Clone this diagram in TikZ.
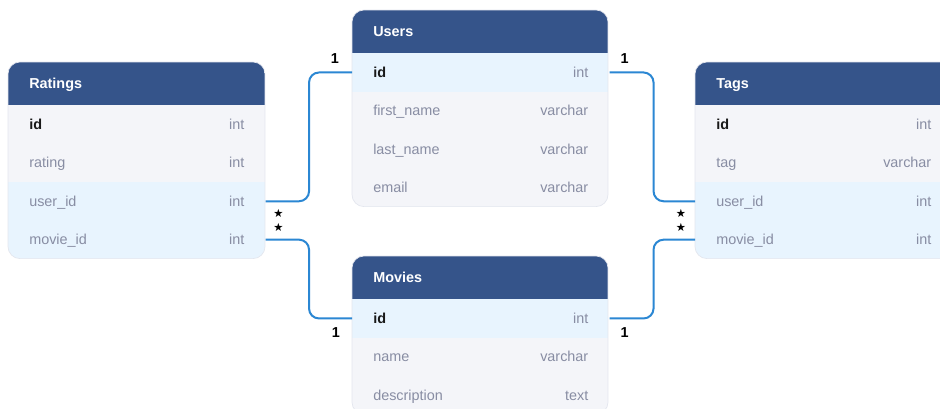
\documentclass[tikz,border=0pt]{standalone}
\usepackage{fontspec}
\setmainfont{Liberation Sans}
\newfontfamily\symfont{DejaVu Sans}
\usetikzlibrary{calc}
\definecolor{hdrblue}{HTML}{35548A}
\definecolor{rowgray}{HTML}{F4F5F9}
\definecolor{rowblue}{HTML}{E8F4FE}
\definecolor{txtgray}{HTML}{888DA3}
\definecolor{linkblue}{HTML}{2B87D3}
\definecolor{edgegray}{HTML}{E3E6EE}
\tikzset{
 rowbox/.style={rectangle, draw=none, inner sep=0pt, minimum width=192.75pt, minimum height=28.8pt},
 hdrbox/.style={rectangle, draw=none, fill=hdrblue, inner sep=0pt, minimum width=192.75pt, minimum height=32.25pt},
 hdrtxt/.style={text=white, font=\bfseries\fontsize{10.8}{12}\selectfont, inner sep=0pt},
 fieldtxt/.style={text=txtgray, font=\fontsize{10.8}{12}\selectfont, inner sep=0pt},
 keytxt/.style={text=black!90, font=\bfseries\fontsize{10.8}{12}\selectfont, inner sep=0pt},
 typetxt/.style={text=txtgray, font=\fontsize{10.8}{12}\selectfont, inner sep=0pt},
 link/.style={draw=linkblue, line width=1.5pt, rounded corners=7.5pt},
 card/.style={text=black, font=\bfseries\fontsize{10.8}{12}\selectfont, inner sep=0pt},
 many/.style={text=black, font=\symfont\fontsize{8.5}{9}\selectfont, inner sep=0pt},
 tblframe/.style={draw=edgegray, line width=0.5pt, rounded corners=9pt},
 tblclip/.style={rounded corners=9pt},
}
\newcommand\dbrow[7]{%
 \node[rowbox, fill=#4, anchor=north west] (#1) at (#2,#3) {};
 \node[#7, anchor=base west] (#1-f) at ([xshift=15.75pt,yshift=-3.75pt]#1.west) {#5};
 \node[typetxt, anchor=base east] (#1-t) at ([xshift=-15.75pt,yshift=-3.75pt]#1.east) {#6};}
\newcommand\dbhead[4]{%
 \node[hdrbox, anchor=north west] (#1) at (#2,#3) {};
 \node[hdrtxt, anchor=base west] (#1-title) at ([xshift=15.75pt,yshift=-3.75pt]#1.west) {#4};}
\begin{document}
\begin{tikzpicture}[x=0.75pt,y=-0.75pt]
\useasboundingbox (0,0) rectangle (940,408);
\clip (0,0) rectangle (940,408);
\fill[white] (0,0) rectangle (940,408);

% Ratings
\begin{scope}
\clip[tblclip] (8,62) rectangle (265,258.6);
\dbhead{ratings}{8}{62}{Ratings}
\dbrow{ratings-id}{8}{105}{rowgray}{id}{int}{keytxt}
\dbrow{ratings-rating}{8}{143.4}{rowgray}{rating}{int}{fieldtxt}
\dbrow{ratings-uid}{8}{181.8}{rowblue}{user\_id}{int}{fieldtxt}
\dbrow{ratings-mid}{8}{220.2}{rowblue}{movie\_id}{int}{fieldtxt}
\end{scope}
\draw[tblframe] (8,62) rectangle (265,258.6);

% Users
\begin{scope}
\clip[tblclip] (352,10) rectangle (608,206.6);
\dbhead{users}{352}{10}{Users}
\dbrow{users-id}{352}{53}{rowblue}{id}{int}{keytxt}
\dbrow{users-fn}{352}{91.4}{rowgray}{first\_name}{varchar}{fieldtxt}
\dbrow{users-ln}{352}{129.8}{rowgray}{last\_name}{varchar}{fieldtxt}
\dbrow{users-em}{352}{168.2}{rowgray}{email}{varchar}{fieldtxt}
\end{scope}
\draw[tblframe] (352,10) rectangle (608,206.6);

% Movies
\begin{scope}
\clip[tblclip] (352,256) rectangle (608,414.2);
\dbhead{movies}{352}{256}{Movies}
\dbrow{movies-id}{352}{299}{rowblue}{id}{int}{keytxt}
\dbrow{movies-name}{352}{337.4}{rowgray}{name}{varchar}{fieldtxt}
\dbrow{movies-desc}{352}{375.8}{rowgray}{description}{text}{fieldtxt}
\end{scope}
\draw[tblframe] (352,256) rectangle (608,414.2);

% Tags
\begin{scope}
\clip[tblclip] (695,62) rectangle (952,258.6);
\dbhead{tags}{695}{62}{Tags}
\dbrow{tags-id}{695}{105}{rowgray}{id}{int}{keytxt}
\dbrow{tags-tag}{695}{143.4}{rowgray}{tag}{varchar}{fieldtxt}
\dbrow{tags-uid}{695}{181.8}{rowblue}{user\_id}{int}{fieldtxt}
\dbrow{tags-mid}{695}{220.2}{rowblue}{movie\_id}{int}{fieldtxt}
\end{scope}
\draw[tblframe] (695,62) rectangle (952,258.6);

% Connectors
\draw[link] (ratings-uid.east) -- ++(43.5,0) |- (users-id.west);
\draw[link] (ratings-mid.east) -- ++(43.5,0) |- (movies-id.west);
\draw[link] (users-id.east) -- ++(44,0) |- (tags-uid.west);
\draw[link] (movies-id.east) -- ++(44,0) |- (tags-mid.west);

% Cardinality labels
\node[card] (c1) at ([xshift=-12.75pt,yshift=10.5pt]users-id.west) {1};
\node[card] (c2) at ([xshift=11.25pt,yshift=10.5pt]users-id.east) {1};
\node[card] (c3) at ([xshift=-12pt,yshift=-10.5pt]movies-id.west) {1};
\node[card] (c4) at ([xshift=11.25pt,yshift=-10.5pt]movies-id.east) {1};
\node[many] (s1) at ([xshift=9.75pt,yshift=-9pt]ratings-uid.east) {★};
\node[many] (s2) at ([xshift=9.75pt,yshift=9pt]ratings-mid.east) {★};
\node[many] (s3) at ([xshift=-10.5pt,yshift=-9pt]tags-uid.west) {★};
\node[many] (s4) at ([xshift=-10.5pt,yshift=9pt]tags-mid.west) {★};
\end{tikzpicture}
\end{document}
